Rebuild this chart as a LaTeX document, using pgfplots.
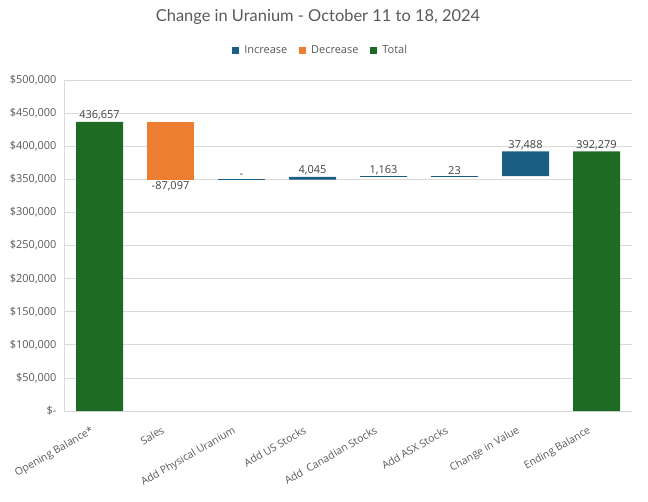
\documentclass[border=0pt]{standalone}
\usepackage{pgfplots}
\pgfplotsset{compat=1.18}
\usepackage{fontspec}
\setmainfont{Open Sans}
\newfontfamily\latofont{Lato}
\definecolor{incc}{HTML}{1B5E83}
\definecolor{decc}{HTML}{ED7D31}
\definecolor{totc}{HTML}{1E6B25}
\definecolor{gridc}{HTML}{D9D9D9}
\definecolor{txtc}{HTML}{595959}
\definecolor{labc}{HTML}{404040}
\begin{document}
\begin{tikzpicture}
\useasboundingbox (0,0) rectangle (648bp,502bp);
\node[font=\latofont\fontsize{16.5}{19}\selectfont, text=txtc] at (318bp,485bp) {Change in Uranium - October 11 to 18, 2024};
\begin{axis}[
  at={(64bp,91bp)}, anchor=south west,
  width=568bp, height=331bp, scale only axis,
  ybar stacked, bar width=47bp,
  xmin=-0.5, xmax=7.5, ymin=0, ymax=500000,
  xtick={0,...,7},
  xticklabels={Opening Balance*, Sales, Add Physical Uranium, Add US Stocks, Add\ \ Canadian Stocks, Add ASX Stocks, Change in Value, Ending Balance},
  x tick label style={xshift=-9bp, yshift=-13bp, rotate=30, anchor=north east, font=\fontsize{10.5}{12}\selectfont, text=txtc, inner sep=1bp},
  ytick={0,50000,100000,150000,200000,250000,300000,350000,400000,450000,500000},
  yticklabels={{\$-},{\$50,000},{\$100,000},{\$150,000},{\$200,000},{\$250,000},{\$300,000},{\$350,000},{\$400,000},{\$450,000},{\$500,000}},
  y tick label style={font=\fontsize{11}{13}\selectfont, text=txtc, xshift=-4bp},
  scaled y ticks=false,
  major tick length=0pt,
  ymajorgrids, grid style={gridc, line width=0.8pt},
  axis x line*=bottom, axis y line*=left,
  axis line style={gridc, line width=0.8pt, -},
  legend style={at={(0.452,1.09)}, anchor=center, legend columns=-1, draw=none, fill=none,
    font=\fontsize{11}{13}\selectfont, text=txtc,
    /tikz/every odd column/.append style={column sep=3bp},
    /tikz/every even column/.append style={column sep=10bp}},
  legend image code/.code={\fill[#1] (0bp,-3.5bp) rectangle (7bp,3.5bp);},
]
\addplot[fill=none, draw=none, forget plot] coordinates {(0,0) (1,349560) (2,349560) (3,349560) (4,353605) (5,354768) (6,354791) (7,0)};
\addplot[fill=incc, draw=none] coordinates {(0,0) (1,0) (2,0) (3,4045) (4,1163) (5,23) (6,37488) (7,0)};
\addplot[fill=decc, draw=none] coordinates {(0,0) (1,87097) (2,0) (3,0) (4,0) (5,0) (6,0) (7,0)};
\addplot[fill=totc, draw=none] coordinates {(0,436657) (1,0) (2,0) (3,0) (4,0) (5,0) (6,0) (7,392279)};
\legend{Increase, Decrease, Total}
\end{axis}
\begin{axis}[
  at={(64bp,91bp)}, anchor=south west,
  width=568bp, height=331bp, scale only axis,
  xmin=-0.5, xmax=7.5, ymin=0, ymax=500000,
  hide axis, clip=false,
]
\addplot[incc, line width=1.2pt] coordinates {(1.669,349560) (2.331,349560)};
\addplot[incc, line width=1.2pt] coordinates {(3.669,354200) (4.331,354200)};
\addplot[incc, line width=1.2pt] coordinates {(4.669,354791) (5.331,354791)};
\addplot[only marks, mark=none, nodes near coords, point meta=explicit symbolic,
  nodes near coords style={anchor=south, font=\fontsize{11}{13}\selectfont, text=labc, inner sep=1.5bp}]
  coordinates {(0,436657) [436,657] (2,349560) [-] (3,353605) [4,045] (4,354768) [1,163] (5,354791) [23] (6,392279) [37,488] (7,392279) [392,279]};
\addplot[only marks, mark=none, nodes near coords, point meta=explicit symbolic,
  nodes near coords style={anchor=north, font=\fontsize{11}{13}\selectfont, text=labc, inner sep=2bp}]
  coordinates {(1,349560) [-87,097]};
\end{axis}
\end{tikzpicture}
\end{document}
